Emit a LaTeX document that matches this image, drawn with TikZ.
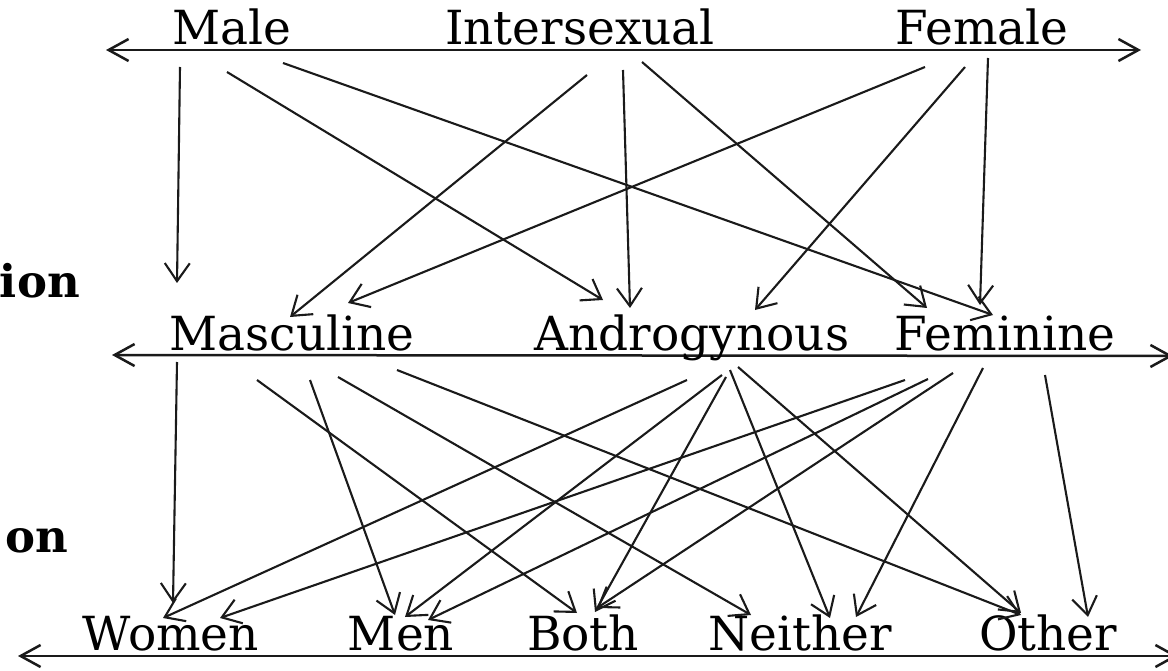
\documentclass[tikz,border=0pt]{standalone}
\usepackage{fontspec}
\setmainfont{DejaVu Serif}
\usepackage{tikz}
\usetikzlibrary{arrows.meta,positioning}
\definecolor{InkBlack}{HTML}{1A1A1A}
\tikzset{
  % Row labels
  lbl/.style={inner sep=0pt,anchor=base,text=black,
              font=\fontsize{47}{56}\selectfont},
  % Cut-off side labels
  side/.style={inner sep=0pt,anchor=base east,text=black,
               font=\fontsize{45}{54}\selectfont\bfseries},
  % Arrow
  arr/.style={-{Straight Barb[length=18pt,width=25pt]},line width=2.1pt,draw=InkBlack},
  % Scale line
  axis/.style={{Straight Barb[length=20pt,width=22pt]}-{Straight Barb[length=20pt,width=22pt]},
               line width=2.5pt,draw=InkBlack}
}

\begin{document}
\begin{tikzpicture}[x=1pt,y=-1pt]
  \useasboundingbox (0,0) rectangle (1168,671);
  \clip (0,0) rectangle (1168,671);
  \fill[white] (0,0) rectangle (1168,671);

  \coordinate (sexL)  at (106,50);
  \coordinate (sexR)  at (1141,50);
  \coordinate (roleL) at (112,355);
  \coordinate (roleR) at (1173,356);
  \coordinate (orL)   at (18,656);
  \coordinate (orR)   at (1178,656);
  \draw[axis] (sexL) -- (sexR);
  \draw[axis] (roleL) -- (roleR);
  \draw[axis] (orL) -- (orR);

  \node[lbl] (male)    at (232,45)   {Male};
  \node[lbl] (inter)   at (580,45)   {Intersexual};
  \node[lbl] (female)  at (982,45)   {Female};
  \node[lbl] (masc)    at (292,350)  {Masculine};
  \node[lbl] (andro)   at (692,350)  {Androgynous};
  \node[lbl] (fem)     at (1005,350) {Feminine};
  \node[lbl] (women)   at (171,650)  {Women};
  \node[lbl] (men)     at (401,650)  {Men};
  \node[lbl] (both)    at (583,650)  {Both};
  \node[lbl] (neither) at (800,650)  {Neither};
  \node[lbl] (other)   at (1048,650) {Other};
  \node[side] (idn)    at (80,298)   {ion};
  \node[side] (orn)    at (68,552)   {on};

  \draw[arr] ([shift={(-52,22)}]male.base)  -- ([shift={(-115,-67)}]masc.base);
  \draw[arr] ([shift={(-5,27)}]male.base)   -- ([shift={(-89,-50)}]andro.base);
  \draw[arr] ([shift={(51,18)}]male.base)   -- ([shift={(-12,-35)}]fem.base);
  \draw[arr] ([shift={(7,30)}]inter.base)   -- ([shift={(-2,-33)}]masc.base);
  \draw[arr] ([shift={(43,25)}]inter.base)  -- ([shift={(-62,-42)}]andro.base);
  \draw[arr] ([shift={(62,17)}]inter.base)  -- ([shift={(-78,-42)}]fem.base);
  \draw[arr] ([shift={(-57,22)}]female.base) -- ([shift={(56,-47)}]masc.base);
  \draw[arr] ([shift={(-17,22)}]female.base) -- ([shift={(63,-40)}]andro.base);
  \draw[arr] ([shift={(6,13)}]female.base)   -- ([shift={(-25,-45)}]fem.base);

  \draw[arr] ([shift={(-115,12)}]masc.base) -- ([shift={(2,-47)}]women.base);
  \draw[arr] ([shift={(18,30)}]masc.base)   -- ([shift={(-6,-35)}]men.base);
  \draw[arr] ([shift={(-35,30)}]masc.base)  -- ([shift={(-6,-37)}]both.base);
  \draw[arr] ([shift={(46,27)}]masc.base)   -- ([shift={(-49,-35)}]neither.base);
  \draw[arr] ([shift={(105,20)}]masc.base)  -- ([shift={(-27,-35)}]other.base);
  \draw[arr] ([shift={(-5,30)}]andro.base)  -- ([shift={(-8,-32)}]women.base);
  \draw[arr] ([shift={(30,25)}]andro.base)  -- ([shift={(4,-33)}]men.base);
  \draw[arr] ([shift={(34,27)}]andro.base)  -- ([shift={(12,-38)}]both.base);
  \draw[arr] ([shift={(38,20)}]andro.base)  -- ([shift={(30,-32)}]neither.base);
  \draw[arr] ([shift={(46,17)}]andro.base)  -- ([shift={(-27,-37)}]other.base);
  \draw[arr] ([shift={(-100,30)}]fem.base)  -- ([shift={(49,-32)}]women.base);
  \draw[arr] ([shift={(-77,29)}]fem.base)   -- ([shift={(27,-30)}]men.base);
  \draw[arr] ([shift={(-52,23)}]fem.base)   -- ([shift={(14,-42)}]both.base);
  \draw[arr] ([shift={(-22,18)}]fem.base)   -- ([shift={(56,-33)}]neither.base);
  \draw[arr] ([shift={(40,25)}]fem.base)    -- ([shift={(40,-33)}]other.base);
\end{tikzpicture}
\end{document}
